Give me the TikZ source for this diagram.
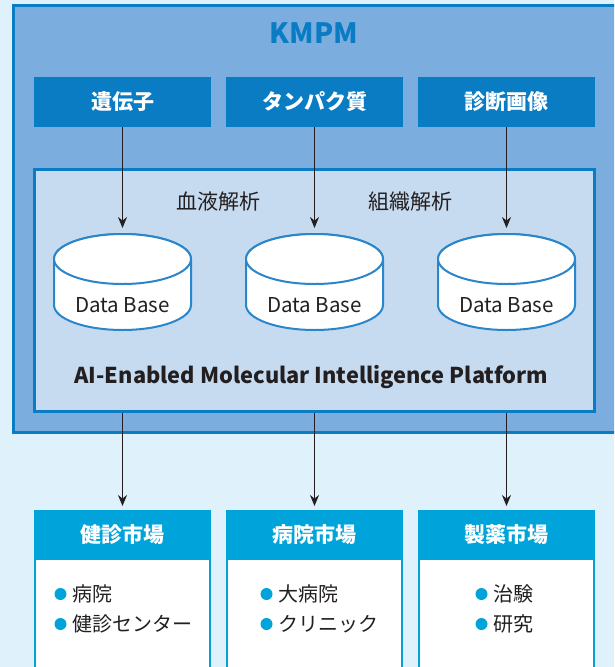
\documentclass[tikz,border=0pt]{standalone}
\usepackage{fontspec}
\setmainfont{Noto Sans CJK JP}
\usetikzlibrary{arrows.meta}
\definecolor{bgc}{HTML}{DFF1FA}
\definecolor{outerfill}{HTML}{7BAEDF}
\definecolor{deepblue}{HTML}{0A7CC4}
\definecolor{innerfill}{HTML}{C6DBF0}
\definecolor{dbc}{HTML}{2B86C9}
\definecolor{mkt}{HTML}{00A3DA}
\definecolor{txt}{HTML}{231F20}
\tikzset{
  outerbox/.style={draw=deepblue, fill=outerfill, line width=2.7pt, outer sep=0pt, inner sep=0pt, anchor=north west},
  innerbox/.style={draw=deepblue, fill=innerfill, line width=2.7pt, outer sep=0pt, inner sep=0pt, anchor=north west},
  srcbox/.style={fill=deepblue, minimum width=177pt, minimum height=50pt, outer sep=0pt, inner sep=0pt, text=white, font=\bfseries\fontsize{21}{24}\selectfont},
  mkthead/.style={fill=mkt, minimum width=177pt, minimum height=49pt, outer sep=0pt, inner sep=0pt, text=white, font=\bfseries\fontsize{21}{24}\selectfont},
  mktbody/.style={draw=mkt, fill=white, line width=2pt, minimum width=175pt, minimum height=140pt, outer sep=0pt, inner sep=0pt, anchor=north},
  lbl/.style={text=txt, inner sep=0pt, font=\fontsize{20.5}{24}\selectfont},
  item/.style={text=txt, inner sep=0pt, anchor=base west, font=\fontsize{20}{24}\selectfont},
  arr/.style={draw=txt, line width=0.9pt, -{Stealth[length=11pt,width=9pt]}},
  dbshape/.style={fill=white, draw=dbc, line width=2pt}
}
\newcommand{\dbcyl}[1]{%
  \filldraw[dbshape] (#1-68.5,259) -- (#1-68.5,305)
    arc[start angle=180, end angle=360, x radius=68.5pt, y radius=25pt]
    -- (#1+68.5,259)
    arc[start angle=0, end angle=180, x radius=68.5pt, y radius=25pt] -- cycle;
  \draw[dbshape] (#1,259) ellipse[x radius=68.5pt, y radius=25pt];
}
\begin{document}
\begin{tikzpicture}[x=1pt,y=-1pt]
\useasboundingbox (0,0) rectangle (614,667);
\clip (0,0) rectangle (614,667);
\fill[bgc] (0,0) rectangle (614,667);

% outer KMPM box
\node[outerbox, minimum width=700pt, minimum height=427.3pt] (kmpm) at (13.35,5.35) {};
\node[text=deepblue, inner sep=0pt, font=\bfseries\fontsize{28}{30}\selectfont] (title) at (314,33) {KMPM};

% source boxes
\node[srcbox] (g1) at (122.5,102) {遺伝子};
\node[srcbox] (g2) at (314.5,102) {タンパク質};
\node[srcbox] (g3) at (506.5,102) {診断画像};

% platform box
\node[innerbox, minimum width=560pt, minimum height=242pt] (plat) at (34.65,169.65) {};

\node[lbl, font=\fontsize{21}{24}\selectfont] (blood) at (218,202) {血液解析};
\node[lbl, font=\fontsize{21}{24}\selectfont] (tissue) at (410,202) {組織解析};

% databases
\dbcyl{122.5}
\dbcyl{314.5}
\dbcyl{506.5}
\coordinate (db1) at (122.5,234);
\coordinate (db2) at (314.5,234);
\coordinate (db3) at (506.5,234);
\node[lbl, anchor=base] (dbl1) at (122.5,312) {Data Base};
\node[lbl, anchor=base] (dbl2) at (314.5,312) {Data Base};
\node[lbl, anchor=base] (dbl3) at (506.5,312) {Data Base};

\node[text=txt, inner sep=0pt, anchor=base, font=\bfseries\fontsize{21.8}{24}\selectfont] (platname) at (311.5,383.5) {AI-Enabled Molecular Intelligence Platform};

% arrows into databases
\draw[arr, shorten >=6pt] (g1.south) -- (db1);
\draw[arr, shorten >=6pt] (g2.south) -- (db2);
\draw[arr, shorten >=6pt] (g3.south) -- (db3);

% market boxes
\node[mktbody] (b1) at (122.5,559) {};
\node[mktbody] (b2) at (314.5,559) {};
\node[mktbody] (b3) at (506.5,559) {};
\node[mkthead] (m1) at (122.5,534.5) {健診市場};
\node[mkthead] (m2) at (314.5,534.5) {病院市場};
\node[mkthead] (m3) at (506.5,534.5) {製薬市場};

\coordinate (p1) at (122.5,413);
\coordinate (p2) at (314.5,413);
\coordinate (p3) at (506.5,413);
\draw[arr, shorten >=4pt] (p1) -- (m1.north);
\draw[arr, shorten >=4pt] (p2) -- (m2.north);
\draw[arr, shorten >=4pt] (p3) -- (m3.north);

% items
\node[item] (i11) at (72,601) {病院};
\node[item] (i12) at (72,631) {健診センター};
\node[item] (i21) at (278,601) {大病院};
\node[item] (i22) at (278,631) {クリニック};
\node[item] (i31) at (493,601) {治験};
\node[item] (i32) at (493,631) {研究};
\foreach \n in {i11,i12,i21,i22,i31,i32}{
  \fill[mkt] ([xshift=-11.5pt,yshift=7pt]\n.base west) circle (6pt);
}
\end{tikzpicture}
\end{document}
